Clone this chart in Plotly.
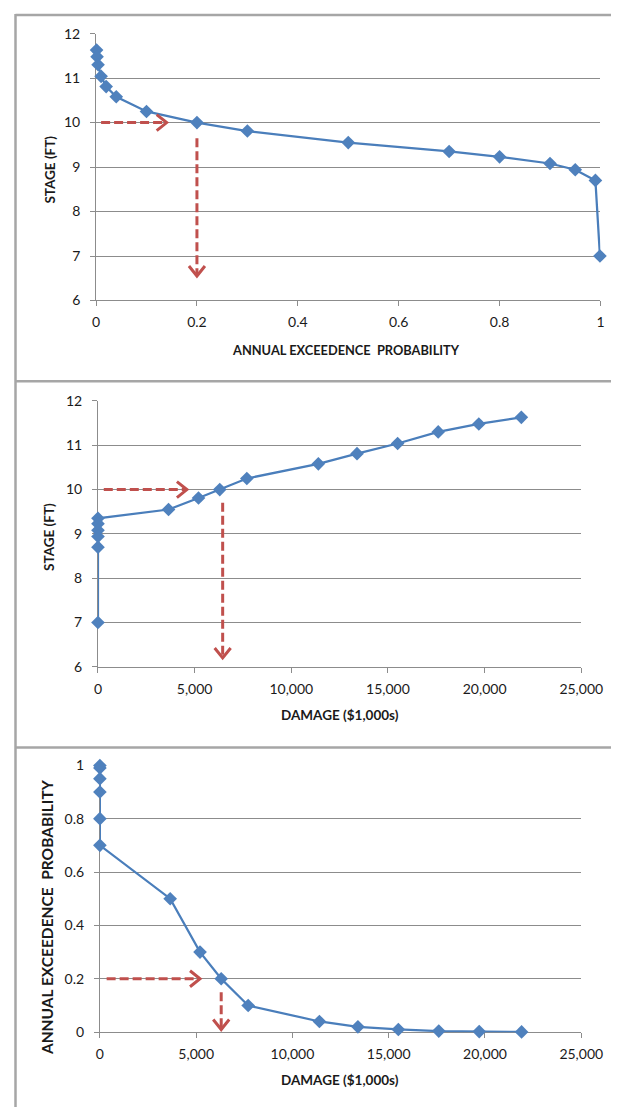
import plotly.graph_objects as go

# Stage-frequency-damage relationship (one row per computed event)
aep = [0.001, 0.002, 0.004, 0.01, 0.02, 0.04, 0.1, 0.2, 0.3, 0.5, 0.7, 0.8, 0.9, 0.95, 0.99, 0.999]
stage_ft = [11.63, 11.48, 11.30, 11.04, 10.81, 10.58, 10.25, 10.0, 9.81, 9.55, 9.35, 9.23, 9.08, 8.94, 8.70, 7.0]
damage_k = [21900, 19700, 17600, 15500, 13400, 11400, 7700, 6300, 5200, 3650, 0, 0, 0, 0, 0, 0]

# Read-off example: the 0.2 AEP event
target_aep = 0.2
target_stage = 10.0
target_damage = 6300

stage_ticks = [6, 7, 8, 9, 10, 11, 12]
aep_ticks = [0, 0.2, 0.4, 0.6, 0.8, 1]
damage_ticks = [0, 5000, 10000, 15000, 20000, 25000]

W, H = 633, 1115
BLUE_LINE = "#4a7ebb"
BLUE_MARK = "#4f81bd"
RED = "#c0504d"
GRID = "#8c8c8c"
FRAME = "#a6a6a6"
FONT = "Lato"
TXT = "#1a1a1a"


def px_x(p):
    return p / W


def px_y(p):
    return 1 - p / H


# plot-area pixel boxes: (left, right, top, bottom)
boxes = {
    "1": (96, 622, 25, 296),
    "2": (98, 602, 398, 668),
    "3": (100, 602, 768, 1039),
}

fig = go.Figure()

series = [
    ("1", aep, stage_ft),
    ("2", damage_k, stage_ft),
    ("3", damage_k, aep),
]
for key, xs, ys in series:
    fig.add_trace(go.Scatter(
        x=xs, y=ys, mode="lines+markers",
        xaxis="x" if key == "1" else "x" + key,
        yaxis="y" if key == "1" else "y" + key,
        line=dict(color=BLUE_LINE, width=2.25),
        marker=dict(symbol="diamond", size=10.5, color=BLUE_MARK,
                    line=dict(width=0)),
        cliponaxis=False,
        showlegend=False, hoverinfo="skip",
    ))

axis_common = dict(
    showline=True, linecolor=GRID, linewidth=1,
    ticks="outside", ticklen=5, tickcolor=GRID, tickwidth=1,
    tickfont=dict(family=FONT, size=14, color=TXT),
    zeroline=False, fixedrange=True, layer="below traces",
)

layout_axes = {}
xdefs = {
    "1": dict(range=[0, 1], tickvals=aep_ticks, ticktext=["0", "0.2", "0.4", "0.6", "0.8", "1"]),
    "2": dict(range=[0, 25000], tickvals=damage_ticks, tickformat=",d"),
    "3": dict(range=[0, 25000], tickvals=damage_ticks, tickformat=",d"),
}
ydefs = {
    "1": dict(range=[6, 12], tickvals=stage_ticks),
    "2": dict(range=[6, 12], tickvals=stage_ticks),
    "3": dict(range=[0, 1], tickvals=aep_ticks, ticktext=["0", "0.2", "0.4", "0.6", "0.8", "1"]),
}
for key, (l, r, t, b) in boxes.items():
    xn = "xaxis" if key == "1" else "xaxis" + key
    yn = "yaxis" if key == "1" else "yaxis" + key
    xa = "x" if key == "1" else "x" + key
    ya = "y" if key == "1" else "y" + key
    layout_axes[xn] = dict(axis_common, domain=[px_x(l), px_x(r)], anchor=ya,
                           showgrid=False, ticklabelstandoff=4, **xdefs[key])
    layout_axes[yn] = dict(axis_common, domain=[px_y(b), px_y(t)], anchor=xa,
                           showgrid=True, gridcolor=GRID, gridwidth=1,
                           ticklabelstandoff=7, **ydefs[key])

fig.update_layout(
    width=W, height=H,
    margin=dict(l=0, r=0, t=0, b=0),
    paper_bgcolor="white", plot_bgcolor="white",
    **layout_axes,
)

shapes = []

# panel frames
for y0, y1, x0, x1 in [(6, 6, 12, 633), (378, 378, 12, 633), (750, 750, 12, 633)]:
    shapes.append(dict(type="line", xref="paper", yref="paper",
                       x0=px_x(x0), x1=px_x(x1), y0=px_y(y0), y1=px_y(y1),
                       line=dict(color=FRAME, width=2.5)))
shapes.append(dict(type="line", xref="paper", yref="paper",
                   x0=px_x(12), x1=px_x(12), y0=px_y(5), y1=0,
                   line=dict(color=FRAME, width=2.5)))

dash_line = dict(color=RED, width=3, dash="9px,4px")
head_line = dict(color=RED, width=3)


def arrow(xref, yref, x0, y0, x1, y1, direction):
    shapes.append(dict(type="line", xref=xref, yref=yref, x0=x0, y0=y0, x1=x1, y1=y1,
                       line=dash_line))
    path = "M -10,8 L 0,0 L -10,-8" if direction == "right" else "M -8,10 L 0,0 L 8,10"
    shapes.append(dict(type="path", xref=xref, yref=yref,
                       xsizemode="pixel", ysizemode="pixel",
                       xanchor=x1, yanchor=y1, path=path, line=head_line))


# stage -> AEP
arrow("x", "y", 0.01, target_stage, 0.14, target_stage, "right")
arrow("x", "y", target_aep, 9.65, target_aep, 6.55, "down")
# stage -> damage
arrow("x2", "y2", 300, target_stage, 4600, target_stage, "right")
arrow("x2", "y2", 6450, 9.7, 6450, 6.2, "down")
# AEP -> damage
arrow("x3", "y3", 350, target_aep, 5200, target_aep, "right")
arrow("x3", "y3", target_damage, 0.15, target_damage, 0.01, "down")

fig.update_layout(shapes=shapes)

title_font = dict(family=FONT, size=13, color=TXT)
ann = []


def title(text, xp, yp, angle=0, size=13):
    ann.append(dict(text="<b>%s</b>" % text, xref="paper", yref="paper",
                    x=px_x(xp), y=px_y(yp), showarrow=False, textangle=angle,
                    xanchor="center", yanchor="middle",
                    font=dict(title_font, size=size)))


title("ANNUAL EXCEEDENCE  PROBABILITY", 357, 346, 0, 12.8)
title("STAGE (FT)", 47, 163, -90, 13.5)
title("DAMAGE ($1,000s)", 350, 717, 0, 13.5)
title("STAGE (FT)", 47, 536, -90, 13.5)
title("DAMAGE ($1,000s)", 350, 1088, 0, 13.5)
title("ANNUAL EXCEEDENCE  PROBABILITY", 45, 922, -90, 15.5)

fig.update_layout(annotations=ann)

fig.write_html("out.html")
